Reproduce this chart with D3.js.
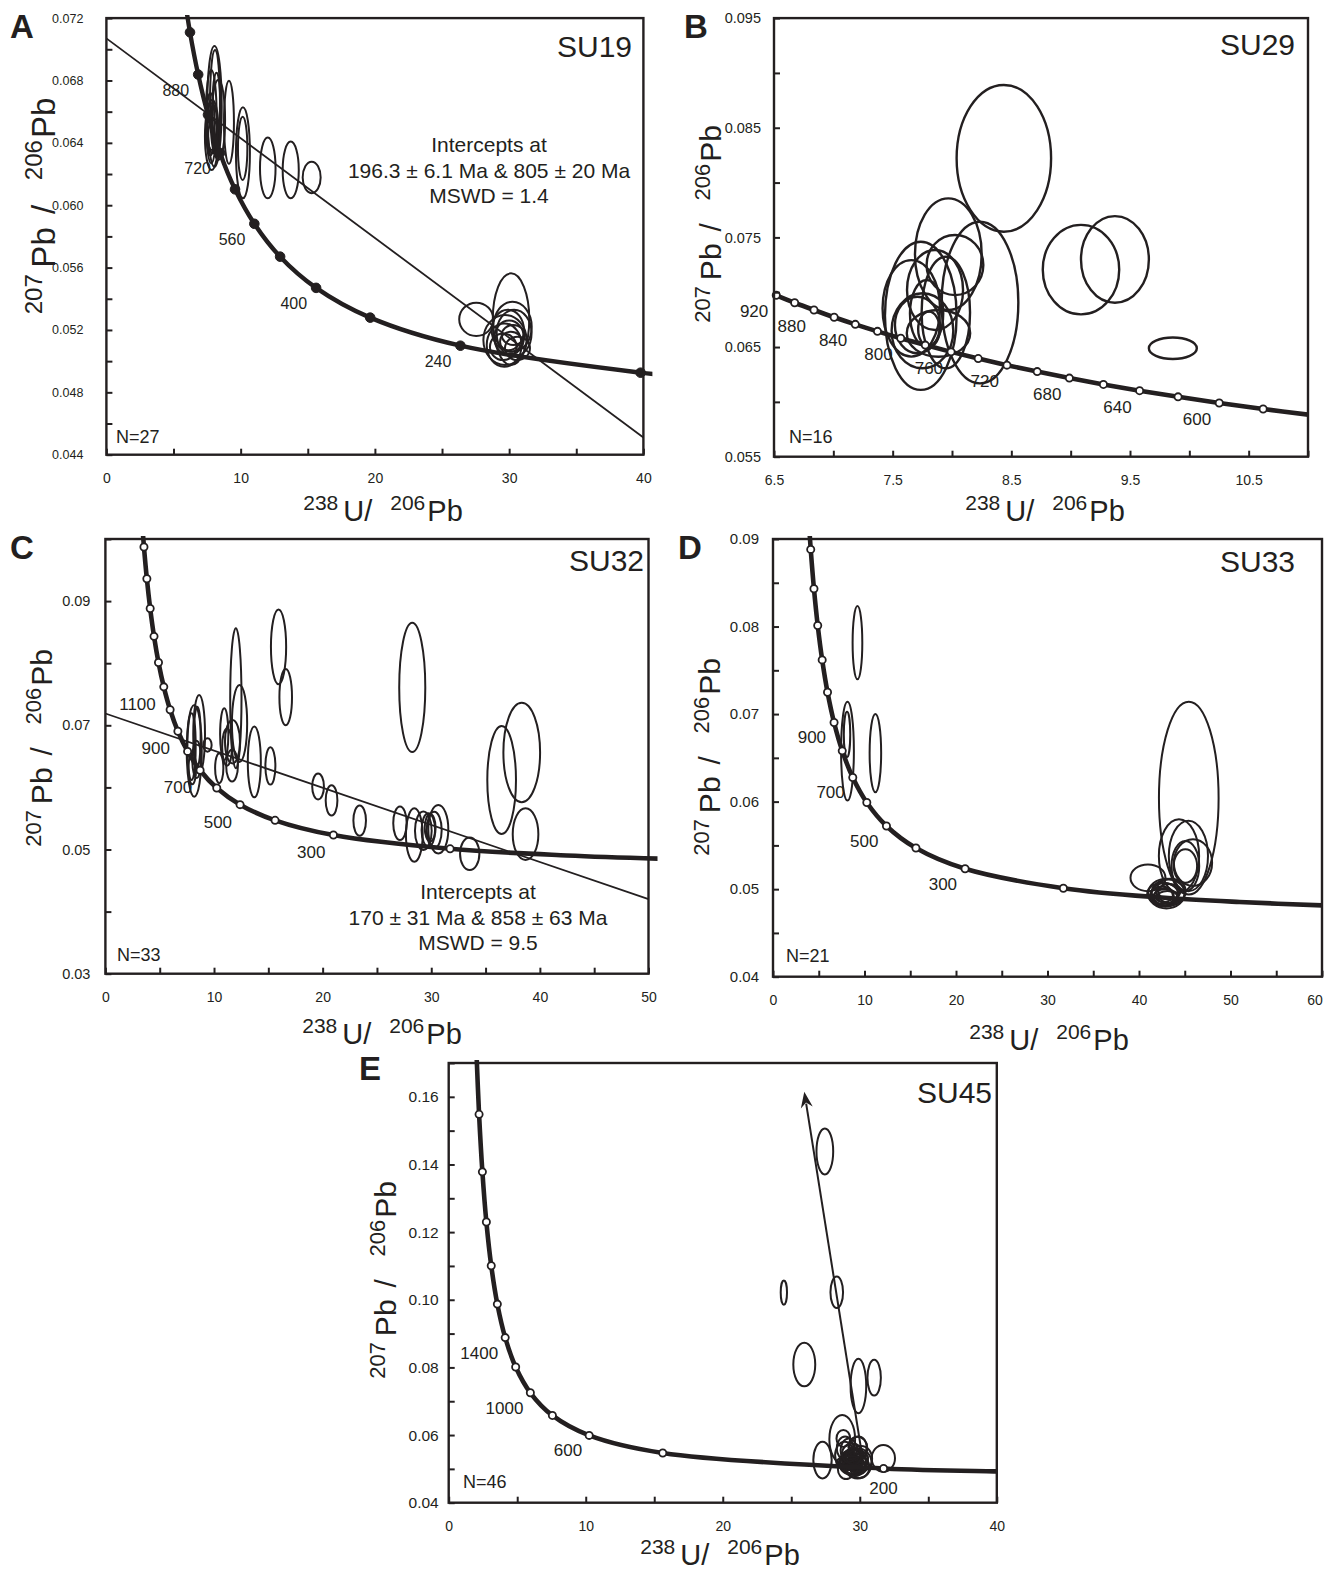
<!DOCTYPE html>
<html><head><meta charset="utf-8">
<script src="https://cdn.jsdelivr.net/npm/d3@7"></script>
<style>
body{margin:0;background:#fff;}
svg text{font-family:"Liberation Sans",Arial,Helvetica,sans-serif;fill:#231f20;}
</style></head><body>
<svg id="chart" width="1325" height="1574"></svg>
<script>
// ---------------- DATA ----------------
// Panel A (SU19)
const xTicksA = [0,5,10,15,20,25,30,35,40];
const xLabelsA = [0,10,20,30,40];
const yTicksA = [0.044,0.046,0.048,0.050,0.052,0.054,0.056,0.058,0.060,0.062,0.064,0.066,0.068,0.070,0.072];
const yLabelsA = [0.044,0.048,0.052,0.056,0.060,0.064,0.068,0.072];
// concordia marks: [age Ma, 238U/206Pb, 207Pb/206Pb]
const concA = [[160,39.79,0.04926],[240,26.37,0.05099],[320,19.65,0.05279],[400,15.62,0.05470],[480,12.94,0.05670],[560,11.02,0.05881],[640,9.581,0.06102],[720,8.463,0.06335],[800,7.568,0.06580],[880,6.837,0.06838],[960,6.227,0.07109],[1040,5.712,0.07395]];
const concEndsA = [[41.0,0.04916]];
const ageLabelsA = [880,720,560,400,240];
const discordiaA = [[0,0.0707],[40,0.0451]];
// ellipses: [x, y, half-width (x units), half-height (y units)]
const ellipsesA = [
 [8.05,0.06634,0.54,0.00387],[8.09,0.06664,0.37,0.00331],[7.81,0.06568,0.40,0.00300],[7.84,0.06440,0.50,0.00214],
 [8.34,0.06547,0.50,0.00257],[7.94,0.06440,0.37,0.00107],[7.87,0.06514,0.45,0.00160],[8.20,0.06600,0.30,0.00250],
 [7.75,0.06520,0.30,0.00200],[9.13,0.06532,0.37,0.00267],[10.17,0.06336,0.52,0.00292],[10.15,0.06365,0.35,0.00203],
 [12.02,0.06239,0.58,0.00195],[13.73,0.06226,0.60,0.00182],[15.29,0.06178,0.67,0.00101],
 [30.14,0.05269,1.36,0.00294],[27.55,0.05268,1.27,0.00107],[30.25,0.05221,1.43,0.00160],[29.69,0.05136,1.61,0.00160],
 [29.63,0.05103,1.30,0.00139],[30.37,0.05179,1.30,0.00150],[30.13,0.05125,0.81,0.00064],[30.31,0.05168,0.87,0.00064],
 [29.56,0.05092,0.99,0.00085],[30.62,0.05082,0.93,0.00075],[30.00,0.05150,1.10,0.00110],[29.90,0.05200,1.20,0.00130]
];

// Panel B (SU29)
const xTicksB = [6.5,7,7.5,8,8.5,9,9.5,10,10.5,11];
const xLabelsB = [6.5,7.5,8.5,9.5,10.5];
const yTicksB = [0.055,0.060,0.065,0.070,0.075,0.080,0.085,0.090,0.095];
const yLabelsB = [0.055,0.065,0.075,0.085,0.095];
const concB = [[560,11.019,0.05881],[580,10.622,0.05935],[600,10.252,0.05990],[620,9.905,0.06046],[640,9.581,0.06102],[660,9.276,0.06159],[680,8.989,0.06217],[700,8.718,0.06276],[720,8.463,0.06335],[740,8.221,0.06395],[760,7.992,0.06456],[780,7.775,0.06518],[800,7.568,0.06580],[820,7.372,0.06643],[840,7.185,0.06707],[860,7.007,0.06772],[880,6.837,0.06838],[900,6.674,0.06904],[920,6.519,0.06972],[940,6.370,0.07040]];
const concEndsB = [];
const ageLabelsB = [920,880,840,800,760,720,680,640,600];
const ellipsesB = [
 [8.437,0.08221,0.398,0.00669],[9.087,0.07206,0.322,0.00408],[9.373,0.07299,0.286,0.00395],[9.861,0.06489,0.202,0.00098],
 [7.969,0.07347,0.281,0.00509],[8.236,0.06906,0.323,0.00737],[7.737,0.06785,0.302,0.00676],[7.657,0.06853,0.242,0.00440],
 [8.025,0.07248,0.239,0.00274],[7.948,0.06815,0.204,0.00509],[7.751,0.06648,0.260,0.00342],[7.709,0.06701,0.190,0.00258],
 [7.886,0.06625,0.267,0.00213],[7.786,0.06807,0.140,0.00304],[7.806,0.06663,0.091,0.00160],[7.857,0.07020,0.236,0.00365]
];

// Panel C (SU32)
const xTicksC = [0,5,10,15,20,25,30,35,40,45,50];
const xLabelsC = [0,10,20,30,40,50];
const yTicksC = [0.03,0.04,0.05,0.06,0.07,0.08,0.09,0.10];
const yLabelsC = [0.03,0.05,0.07,0.09];
const concC = [[200,31.735,0.05011],[300,20.992,0.05233],[400,15.621,0.05470],[500,12.399,0.05722],[600,10.252,0.05990],[700,8.718,0.06276],[800,7.568,0.06580],[900,6.674,0.06904],[1000,5.959,0.07250],[1100,5.375,0.07619],[1200,4.888,0.08012],[1300,4.476,0.08432],[1400,4.123,0.08881],[1500,3.817,0.09360],[1600,3.550,0.09872],[1700,3.314,0.10419]];
const concEndsC = [[42.48,0.04904],[51.0,0.04853]];
const ageLabelsC = [1100,900,700,500,300];
const discordiaC = [[0,0.0719],[50,0.0420]];
const ellipsesC = [
 [15.94,0.08263,0.70,0.00602],[16.60,0.07453,0.58,0.00453],[12.01,0.07435,0.52,0.01128],[12.35,0.07030,0.70,0.00620],
 [28.25,0.07610,1.20,0.01040],[36.48,0.06119,1.32,0.00870],[38.33,0.06562,1.69,0.00802],[38.68,0.05247,1.18,0.00416],
 [27.12,0.05422,0.62,0.00269],[28.44,0.05234,0.77,0.00430],[29.27,0.05301,0.77,0.00309],[29.73,0.05314,0.62,0.00269],
 [30.65,0.05327,0.92,0.00390],[30.27,0.05314,0.69,0.00295],[33.54,0.04932,0.89,0.00263],[23.41,0.05466,0.58,0.00244],
 [19.58,0.06016,0.54,0.00209],[20.82,0.05791,0.54,0.00244],[13.71,0.06410,0.60,0.00570],[15.19,0.06345,0.46,0.00300],
 [8.18,0.06589,0.69,0.00738],[8.63,0.06857,0.54,0.00631],[7.93,0.06656,0.38,0.00537],[8.46,0.06817,0.31,0.00483],
 [9.40,0.06683,0.38,0.00107],[10.94,0.06857,0.38,0.00416],[10.48,0.06309,0.38,0.00242],[11.70,0.06736,0.69,0.00350],
 [11.66,0.06350,0.54,0.00255],[8.40,0.06450,0.40,0.00300],[8.00,0.06300,0.35,0.00250],[11.20,0.06650,0.45,0.00300],
 [29.90,0.05350,0.50,0.00220]
];

// Panel D (SU33)
const xTicksD = [0,5,10,15,20,25,30,35,40,45,50,55,60];
const xLabelsD = [0,10,20,30,40,50,60];
const yTicksD = [0.040,0.045,0.050,0.055,0.060,0.065,0.070,0.075,0.080,0.085,0.090];
const yLabelsD = [0.04,0.05,0.06,0.07,0.08,0.09];
const concD = [[200,31.735,0.05011],[300,20.992,0.05233],[400,15.621,0.05470],[500,12.399,0.05722],[600,10.252,0.05990],[700,8.718,0.06276],[800,7.568,0.06580],[900,6.674,0.06904],[1000,5.959,0.07250],[1100,5.375,0.07619],[1200,4.888,0.08012],[1300,4.476,0.08432],[1400,4.123,0.08881],[1500,3.817,0.09360]];
const concEndsD = [[42.48,0.04904],[51.0,0.04853],[61.0,0.04811]];
const ageLabelsD = [900,700,500,300];
const ellipsesD = [
 [9.23,0.07816,0.53,0.00418],[8.14,0.06577,0.70,0.00565],[8.09,0.06768,0.35,0.00259],[11.19,0.06554,0.63,0.00446],
 [45.44,0.06040,3.26,0.01102],[44.37,0.05379,2.20,0.00421],[45.40,0.05379,2.14,0.00402],[45.07,0.05264,1.51,0.00287],
 [45.90,0.05303,2.09,0.00268],[40.98,0.05130,1.91,0.00153],[45.07,0.05264,1.28,0.00192],[42.80,0.04940,1.50,0.00130],
 [43.20,0.04960,1.80,0.00150],[42.50,0.04920,1.30,0.00110],[43.50,0.04980,1.60,0.00140],[42.90,0.04900,1.40,0.00100],
 [43.00,0.04950,2.00,0.00170],[42.70,0.04930,1.00,0.00080],[43.30,0.04970,1.20,0.00090],[42.60,0.04950,1.70,0.00120],
 [43.10,0.04910,1.10,0.00070]
];

// Panel E (SU45)
const xTicksE = [0,5,10,15,20,25,30,35,40];
const xLabelsE = [0,10,20,30,40];
const yTicksE = [0.04,0.05,0.06,0.07,0.08,0.09,0.10,0.11,0.12,0.13,0.14,0.15,0.16,0.17];
const yLabelsE = [0.04,0.06,0.08,0.10,0.12,0.14,0.16];
const concE = [[200,31.735,0.05011],[400,15.621,0.05470],[600,10.252,0.05990],[800,7.568,0.06580],[1000,5.959,0.07250],[1200,4.888,0.08012],[1400,4.123,0.08881],[1600,3.550,0.09872],[1800,3.105,0.11004],[2000,2.749,0.12299],[2200,2.459,0.13782],[2400,2.217,0.15483],[2600,2.013,0.17437]];
const concEndsE = [[39.79,0.04926],[41.0,0.04916]];
const ageLabelsE = [1400,1000,600,200];
const arrowE = [[30.15,0.0545],[25.95,0.1615]];
const ellipsesE = [
 [27.45,0.14386,0.61,0.00679],[24.46,0.10211,0.23,0.00357],[28.32,0.10221,0.46,0.00468],[25.95,0.08084,0.80,0.00644],
 [29.90,0.07450,0.57,0.00805],[31.05,0.07697,0.49,0.00528],[28.72,0.05877,0.94,0.00715],[27.28,0.05261,0.67,0.00542],
 [31.72,0.05311,0.85,0.00394],[28.80,0.05900,0.50,0.00250],[28.93,0.05610,0.61,0.00345],[29.84,0.05654,0.67,0.00296],
 [29.84,0.05163,1.03,0.00444],[29.50,0.05200,1.00,0.00350],[29.30,0.05150,0.80,0.00300],[29.70,0.05250,0.90,0.00320],
 [29.40,0.05300,0.70,0.00280],[29.60,0.05100,0.75,0.00270],[29.20,0.05220,0.60,0.00250],[29.80,0.05180,0.65,0.00260],
 [29.50,0.05050,0.55,0.00220],[29.45,0.05350,0.60,0.00240],[29.55,0.05150,0.45,0.00200],[29.35,0.05250,0.50,0.00180],
 [29.65,0.05280,0.50,0.00190],[29.50,0.05180,0.35,0.00150],[29.40,0.05120,0.40,0.00160],[29.60,0.05220,0.40,0.00140],
 [29.30,0.05320,0.45,0.00170],[29.70,0.05080,0.45,0.00180],[29.50,0.05280,0.30,0.00120],[29.45,0.05160,0.30,0.00110],
 [29.55,0.05240,0.25,0.00100],[28.90,0.05400,0.70,0.00400],[30.10,0.05300,0.80,0.00380],[29.00,0.05000,0.60,0.00300],
 [30.00,0.05050,0.70,0.00320],[29.20,0.05550,0.60,0.00350],[29.90,0.05600,0.65,0.00360],[29.60,0.05050,0.90,0.00250],
 [29.25,0.05180,0.95,0.00200],[29.75,0.05320,0.85,0.00220],[29.45,0.05450,0.75,0.00300],[29.65,0.04980,0.60,0.00180],
 [29.35,0.05000,0.50,0.00150],[29.55,0.05380,0.55,0.00260]
];

// ---------------- LAYOUT ----------------
const INK = '#231f20';
const panels = [
 {id:'A', frame:[106.4,643.4,18.1,454.7], xDomain:[0,40], yDomain:[0.044,0.072], yFmt:'.3f', xFmt:'d',
  xTicks:xTicksA, xLabels:xLabelsA, yTicks:yTicksA, yLabels:yLabelsA, conc:concA, concEnds:concEndsA,
  ageLabels:ageLabelsA, ellipses:ellipsesA, discordia:discordiaA, filledMarks:true, ellW:2,
  yPad:23, yFs:12.5, xFs:14, letterPos:[10,38], name:'SU19', namePos:[632,57], N:'N=27', nPos:[116,443],
  yTitle:[55,206], ytSup:24, ytMain:33, xTitle:[383,521], ageDx:-9, ageDy:21, ageFs:16, clipR:9,
  intercept:['Intercepts at','196.3 ± 6.1 Ma & 805 ± 20 Ma','MSWD = 1.4'], interceptPos:[489,152]},
 {id:'B', frame:[774,1308,18.1,456.7], xDomain:[6.5,11], yDomain:[0.055,0.095], yFmt:'.3f', xFmt:'.1f',
  xTicks:xTicksB, xLabels:xLabelsB, yTicks:yTicksB, yLabels:yLabelsB, conc:concB, concEnds:concEndsB,
  ageLabels:ageLabelsB, ellipses:ellipsesB, filledMarks:false, ellW:2.4,
  yPad:13, yFs:14.5, xFs:14, letterPos:[684,38], name:'SU29', namePos:[1295,55], N:'N=16', nPos:[789,443],
  yTitle:[721,224], ytSup:22, ytMain:30, xTitle:[1045,521], ageDx:-8, ageDy:22, ageFs:17, clipR:0},
 {id:'C', frame:[105.4,648.5,539,973.7], xDomain:[0,50], yDomain:[0.03,0.10], yFmt:'.2f', xFmt:'d',
  xTicks:xTicksC, xLabels:xLabelsC, yTicks:yTicksC, yLabels:yLabelsC, conc:concC, concEnds:concEndsC,
  ageLabels:ageLabelsC, ellipses:ellipsesC, discordia:discordiaC, filledMarks:false, ellW:2,
  yPad:15, yFs:14.5, xFs:14, letterPos:[10,559], name:'SU32', namePos:[644,571], N:'N=33', nPos:[117,961],
  yTitle:[52,748], ytSup:22, ytMain:30, xTitle:[382,1044], ageDx:-8, ageDy:23, ageFs:17, clipR:9,
  intercept:['Intercepts at','170 ± 31 Ma & 858 ± 63 Ma','MSWD = 9.5'], interceptPos:[478,899]},
 {id:'D', frame:[773,1322,539,976.7], xDomain:[0,60], yDomain:[0.04,0.09], yFmt:'.2f', xFmt:'d',
  xTicks:xTicksD, xLabels:xLabelsD, yTicks:yTicksD, yLabels:yLabelsD, conc:concD, concEnds:concEndsD,
  ageLabels:ageLabelsD, ellipses:ellipsesD, filledMarks:false, ellW:2,
  yPad:14, yFs:15, xFs:14, letterPos:[678,559], name:'SU33', namePos:[1295,572], N:'N=21', nPos:[786,962],
  yTitle:[720,757], ytSup:22, ytMain:30, xTitle:[1049,1050], ageDx:-8, ageDy:21, ageFs:17, clipR:0},
 {id:'E', frame:[448.7,996.8,1063,1502.7], xDomain:[0,40], yDomain:[0.04,0.17], yFmt:'.2f', xFmt:'d',
  xTicks:xTicksE, xLabels:xLabelsE, yTicks:yTicksE, yLabels:yLabelsE, conc:concE, concEnds:concEndsE,
  ageLabels:ageLabelsE, ellipses:ellipsesE, arrow:arrowE, filledMarks:false, ellW:2,
  yPad:10, yFs:15.5, xFs:14, letterPos:[359,1080], name:'SU45', namePos:[992,1103], N:'N=46', nPos:[463,1488],
  yTitle:[396,1280], ytSup:22, ytMain:30, xTitle:[720,1565], ageDx:-7, ageDy:21, ageFs:17, clipR:0,
  ageOverride:{200:{anchor:'middle', dx:0, dy:25}}}
];

const svg = d3.select('#chart');
const near = (arr, v) => arr.some(a => Math.abs(a - v) < 1e-9);

function drawPanel(p) {
  const [L, R, T, B] = p.frame;
  const x = d3.scaleLinear().domain(p.xDomain).range([L, R]);
  const y = d3.scaleLinear().domain(p.yDomain).range([B, T]);
  const g = svg.append('g').attr('class', 'panel-' + p.id);

  const clipId = 'clip' + p.id;
  svg.append('clipPath').attr('id', clipId).append('rect')
    .attr('x', L).attr('y', T - 3).attr('width', R - L + p.clipR).attr('height', B - T + 3);

  // ellipses
  g.append('g').selectAll('ellipse').data(p.ellipses).join('ellipse')
    .attr('cx', d => x(d[0])).attr('cy', d => y(d[1]))
    .attr('rx', d => Math.abs(x(d[0] + d[2]) - x(d[0])))
    .attr('ry', d => Math.abs(y(d[1] + d[3]) - y(d[1])))
    .attr('fill', 'none').attr('stroke', INK).attr('stroke-width', p.ellW);

  // discordia
  if (p.discordia) {
    g.append('line')
      .attr('x1', x(p.discordia[0][0])).attr('y1', y(p.discordia[0][1]))
      .attr('x2', x(p.discordia[1][0])).attr('y2', y(p.discordia[1][1]))
      .attr('stroke', INK).attr('stroke-width', 1.8);
  }
  // arrow
  if (p.arrow) {
    const [a0, a1] = p.arrow;
    const x0 = x(a0[0]), y0 = y(a0[1]), x1 = x(a1[0]), y1 = y(a1[1]);
    const ang = Math.atan2(y1 - y0, x1 - x0);
    const len = 16, wid = 6;
    const bx = x1 - len * Math.cos(ang), by = y1 - len * Math.sin(ang);
    g.append('line').attr('x1', x0).attr('y1', y0).attr('x2', bx + 4*Math.cos(ang)).attr('y2', by + 4*Math.sin(ang))
      .attr('stroke', INK).attr('stroke-width', 2);
    const px = -Math.sin(ang), py = Math.cos(ang);
    g.append('path')
      .attr('d', `M${x1},${y1}L${bx + wid*px},${by + wid*py}L${bx + 5*Math.cos(ang)},${by + 5*Math.sin(ang)}L${bx - wid*px},${by - wid*py}Z`)
      .attr('fill', INK);
  }

  // concordia
  const pts = p.conc.map(c => [c[1], c[2]]).concat(p.concEnds).sort((a, b) => a[0] - b[0]);
  const line = d3.line().x(d => x(d[0])).y(d => y(d[1])).curve(d3.curveCatmullRom.alpha(0.5));
  g.append('path').attr('d', line(pts)).attr('clip-path', `url(#${clipId})`)
    .attr('fill', 'none').attr('stroke', INK).attr('stroke-width', p.filledMarks ? 4.4 : 4.6)
    .attr('stroke-linejoin', 'round');

  const [xd0, xd1] = p.xDomain, [yd0, yd1] = p.yDomain;
  const marks = p.conc.filter(c => c[1] >= xd0 - 1e-6 && c[1] <= xd1 && c[2] >= yd0 && c[2] <= yd1);
  g.append('g').selectAll('circle').data(marks).join('circle')
    .attr('cx', d => x(d[1])).attr('cy', d => y(d[2]))
    .attr('r', p.filledMarks ? 4.8 : 3.6)
    .attr('fill', p.filledMarks ? INK : '#fff')
    .attr('stroke', INK).attr('stroke-width', p.filledMarks ? 1 : 1.8);

  // age labels
  const ov = p.ageOverride || {};
  const labelled = p.conc.filter(c => p.ageLabels.includes(c[0]));
  g.append('g').selectAll('text').data(labelled).join('text')
    .attr('x', d => x(d[1]) + (ov[d[0]] ? ov[d[0]].dx : p.ageDx))
    .attr('y', d => y(d[2]) + (ov[d[0]] ? ov[d[0]].dy : p.ageDy))
    .attr('text-anchor', d => ov[d[0]] ? ov[d[0]].anchor : 'end')
    .attr('font-size', p.ageFs)
    .text(d => d[0]);

  // axes
  const xf = d3.format(p.xFmt), yf = d3.format(p.yFmt);
  const xAxis = d3.axisBottom(x).tickValues(p.xTicks).tickSize(-6).tickPadding(18)
    .tickFormat(v => near(p.xLabels, v) ? xf(v) : '');
  const yAxis = d3.axisLeft(y).tickValues(p.yTicks).tickSize(-6).tickPadding(p.yPad)
    .tickFormat(v => near(p.yLabels, v) ? yf(v) : '');
  const gx = g.append('g').attr('transform', `translate(0,${B})`).call(xAxis);
  const gy = g.append('g').attr('transform', `translate(${L},0)`).call(yAxis);
  [gx, gy].forEach(a => {
    a.select('.domain').remove();
    a.attr('font-family', null).attr('font-size', null);
    a.selectAll('.tick line').attr('stroke', INK).attr('stroke-width', 2);
    a.selectAll('.tick text').attr('fill', INK);
  });
  gx.selectAll('.tick text').attr('font-size', p.xFs);
  gy.selectAll('.tick text').attr('font-size', p.yFs);
  // keep the last x label inside the page
  gx.selectAll('.tick text').each(function() {
    const bb = this.getBBox();
    const tx = +this.parentNode.getAttribute('transform').match(/translate\(([^,]+)/)[1];
    const over = tx + bb.x + bb.width - 1323;
    if (over > 0) d3.select(this).attr('dx', -over);
  });

  // frame
  g.append('rect').attr('x', L).attr('y', T).attr('width', R - L).attr('height', B - T)
    .attr('fill', 'none').attr('stroke', INK).attr('stroke-width', 2.4);

  // panel letter
  g.append('text').attr('x', p.letterPos[0]).attr('y', p.letterPos[1])
    .attr('font-size', 33).attr('font-weight', 'bold').text(p.id);
  // sample name
  g.append('text').attr('x', p.namePos[0]).attr('y', p.namePos[1]).attr('text-anchor', 'end')
    .attr('font-size', 30).text(p.name);
  // N
  g.append('text').attr('x', p.nPos[0]).attr('y', p.nPos[1]).attr('font-size', 18).text(p.N);

  // intercepts
  if (p.intercept) {
    g.append('g').selectAll('text').data(p.intercept).join('text')
      .attr('x', p.interceptPos[0]).attr('y', (d, i) => p.interceptPos[1] + i * 25.5)
      .attr('text-anchor', 'middle').attr('font-size', 21).text(d => d);
  }

  // x title: 238U/ 206Pb
  const xt = g.append('text').attr('x', p.xTitle[0]).attr('y', p.xTitle[1]).attr('text-anchor', 'middle');
  xt.append('tspan').attr('font-size', 21).attr('dy', -11).text('238');
  xt.append('tspan').attr('font-size', 29).attr('dy', 11).attr('dx', 5).text('U/');
  xt.append('tspan').attr('font-size', 21).attr('dy', -11).attr('dx', 18).text('206');
  xt.append('tspan').attr('font-size', 29).attr('dy', 11).attr('dx', 2).text('Pb');

  // y title: 207Pb / 206Pb (rotated)
  const s = p.ytSup, m = p.ytMain, up = Math.round(m * 0.38);
  const yt = g.append('text').attr('text-anchor', 'middle')
    .attr('transform', `translate(${p.yTitle[0]},${p.yTitle[1]}) rotate(-90)`);
  yt.append('tspan').attr('font-size', s).attr('dy', -up).text('207');
  yt.append('tspan').attr('font-size', m).attr('dy', up).attr('dx', m * 0.2).text('Pb');
  yt.append('tspan').attr('font-size', m).attr('dx', m * 0.4).text('/');
  yt.append('tspan').attr('font-size', s).attr('dy', -up).attr('dx', m * 0.75).text('206');
  yt.append('tspan').attr('font-size', m).attr('dy', up).attr('dx', 2).text('Pb');
}

panels.forEach(drawPanel);
</script>
</body></html>
